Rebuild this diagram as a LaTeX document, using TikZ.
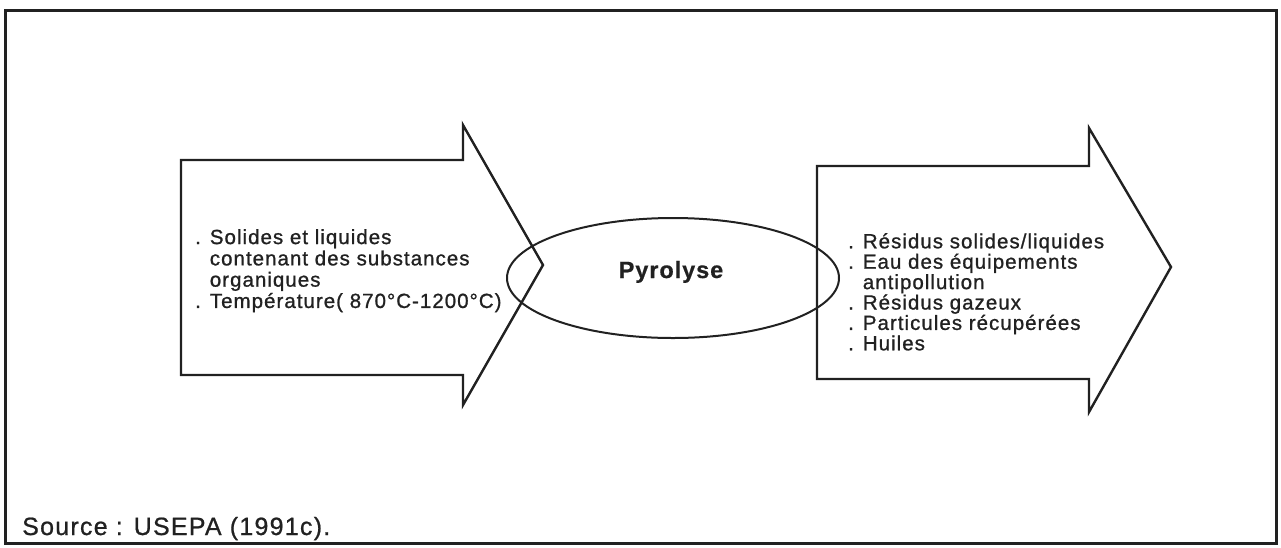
\documentclass[tikz,border=0pt]{standalone}
\usepackage{fontspec}
\setmainfont{Liberation Sans}
\newfontfamily\bodyfont[LetterSpace=5,FakeBold=1]{Liberation Sans}
\newfontfamily\titlefont[LetterSpace=4,FakeBold=0.6]{Liberation Sans}
\newfontfamily\srcfont[LetterSpace=5,FakeBold=0.8]{Liberation Sans}
\definecolor{ink}{gray}{0.13}
\tikzset{
  frame/.style={draw=ink, line width=3pt},
  bigarrow/.style={draw=ink, line width=2.4pt, line join=miter},
  oval/.style={draw=ink, line width=2pt},
  itemtext/.style={anchor=north west, inner sep=0pt, align=left, text=ink},
}
\begin{document}
\begin{tikzpicture}[x=1pt,y=-1pt]
\useasboundingbox (0,0) rectangle (1281,547);
\draw[frame] (5,10) rectangle (1276,543);
% left arrow
\draw[bigarrow] (181,160) -- (463,160) -- (463,125) -- (543,265) -- (463,405) -- (463,375) -- (181,375) -- cycle;
% right arrow
\draw[bigarrow] (817,166) -- (1089,166) -- (1089,128) -- (1171,267) -- (1089,412) -- (1089,379) -- (817,379) -- cycle;
% ellipse
\draw[oval] (673,278) ellipse [x radius=166, y radius=60];
\node[inner sep=0pt, anchor=base, text=ink, font=\titlefont\bfseries\fontsize{23.5}{23.5}\selectfont] (pyro) at (671,278) {Pyrolyse};
\node[itemtext, font=\bodyfont\fontsize{20.5}{21.3}\selectfont] (inputs) at (195,229) {. Solides et liquides\\
\phantom{. }contenant des substances\\
\phantom{. }organiques\\
. Température( 870°C-1200°C)};
\node[itemtext, font=\bodyfont\fontsize{20.5}{20.4}\selectfont] (outputs) at (848,233) {. Résidus solides/liquides\\
. Eau des équipements\\
\phantom{. }antipollution\\
. Résidus gazeux\\
. Particules récupérées\\
. Huiles};
\node[inner sep=0pt, anchor=base west, text=ink, font=\srcfont\fontsize{25}{25}\selectfont] (src) at (22,535) {Source : USEPA (1991c).};
\end{tikzpicture}
\end{document}
